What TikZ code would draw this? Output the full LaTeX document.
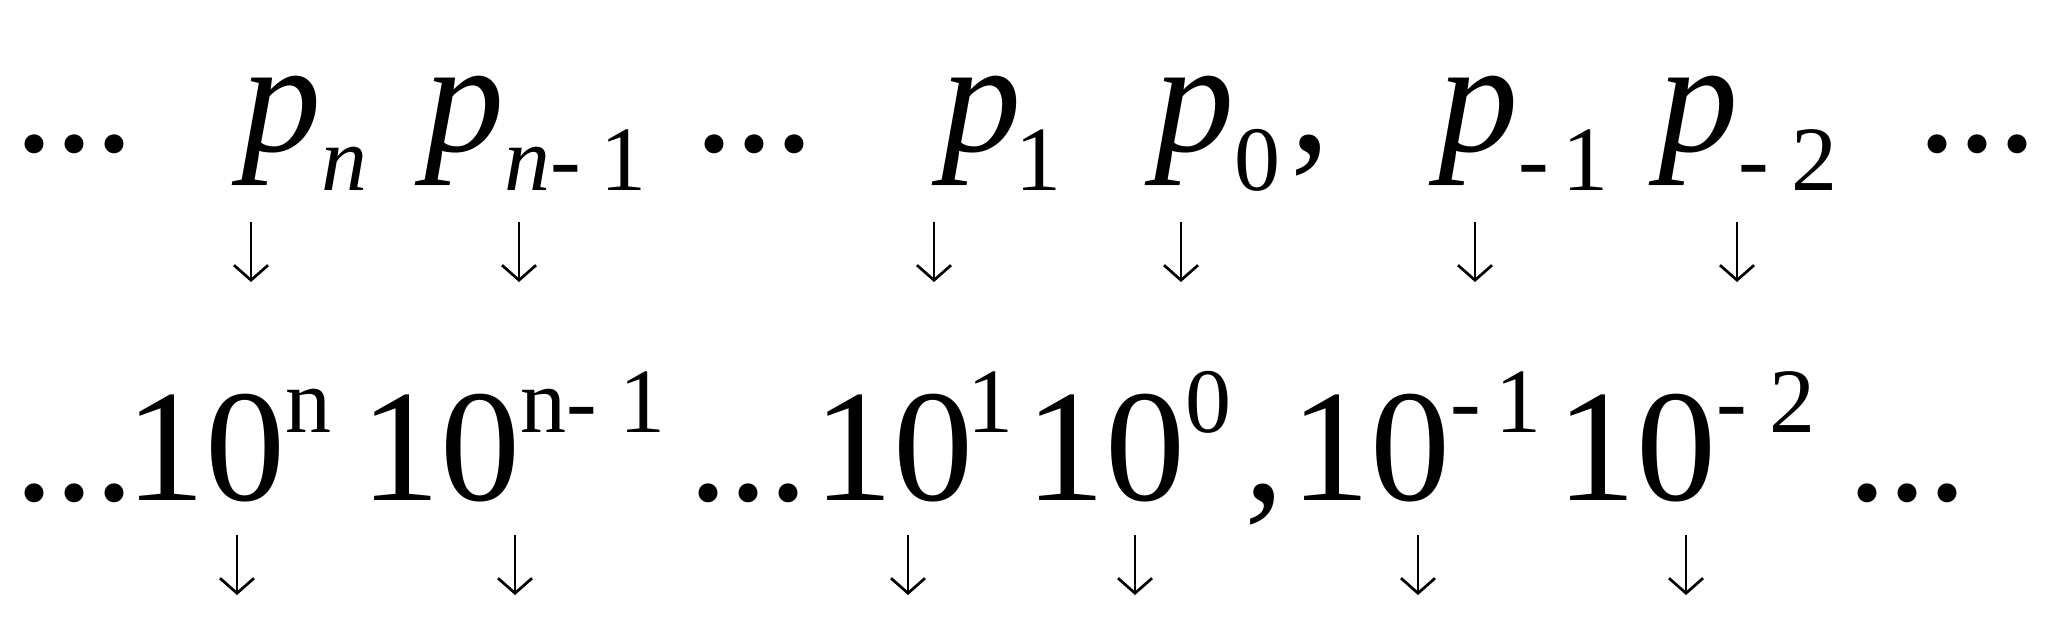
\documentclass[tikz,border=0pt]{standalone}
\usepackage{fontspec}
\setmainfont{Liberation Serif}
\usetikzlibrary{arrows.meta}

\newcommand{\bigsz}{\fontsize{160}{160}\selectfont}
\newcommand{\smallsz}{\fontsize{92}{92}\selectfont}
% digit with lowered index / raised power
\newcommand{\psub}[1]{\textit{p}\lower39pt\hbox{\smallsz #1}}
\newcommand{\tenpow}[1]{10\raise68pt\hbox{\smallsz #1}}

\tikzset{
    term/.style={inner sep=0pt, outer sep=0pt, anchor=base west, font=\bigsz},
    arr/.style={line width=2.7pt, -{Straight Barb[length=15pt, width=34pt]}}
}

\begin{document}
\begin{tikzpicture}[x=1pt, y=-1pt]
            \useasboundingbox (0,0) rectangle (2048,626);

            % positional digits
            \node[term] (dl) at (14,151) {...};
            \node[term] (pn) at (241,151) {\psub{\textit{n}}};
            \node[term] (pnm) at (424,151) {\psub{\textit{n}-\kern20pt 1}};
            \node[term] (dm) at (694,151) {...};
            \node[term] (p1) at (941,151) {\psub{\kern-6pt 1}};
            \node[term] (p0) at (1154,151) {\psub{0}};
            \node[term] (pc) at (1290,151) {,};
            \node[term] (pm1) at (1438,151) {\psub{-\kern14pt 1}};
            \node[term] (pm2) at (1658,151) {\psub{- 2}};
            \node[term] (dr) at (1917,151) {...};

            % place values
            \node[term] (tl) at (14,500) {...};
            \node[term] (tn) at (125,500) {\tenpow{n}};
            \node[term] (tnm) at (360,500) {\tenpow{n- 1}};
            \node[term] (tm) at (688,500) {...};
            \node[term] (t1) at (813,500) {\tenpow{\kern-6pt 1}};
            \node[term] (t0) at (1025,500) {\tenpow{0}};
            \node[term] (tc) at (1244,500) {,};
            \node[term] (tm1) at (1290,500) {\tenpow{-\kern15pt 1}};
            \node[term] (tm2) at (1556,500) {\tenpow{- 2}};
            \node[term] (tr) at (1847,500) {...};

            \foreach \x/\n in {251/a,519/b,934/c,1181/d,1475/e,1737/f}{
                \coordinate (up\n) at (\x,222);
                \coordinate (upe\n) at (\x,282);
                \draw[arr] (up\n) -- (upe\n);
            }
            \foreach \x/\n in {237/a,515/b,908/c,1135/d,1418/e,1686/f}{
                \coordinate (lo\n) at (\x,535);
                \coordinate (loe\n) at (\x,595);
                \draw[arr] (lo\n) -- (loe\n);
            }
        \end{tikzpicture}
\end{document}
